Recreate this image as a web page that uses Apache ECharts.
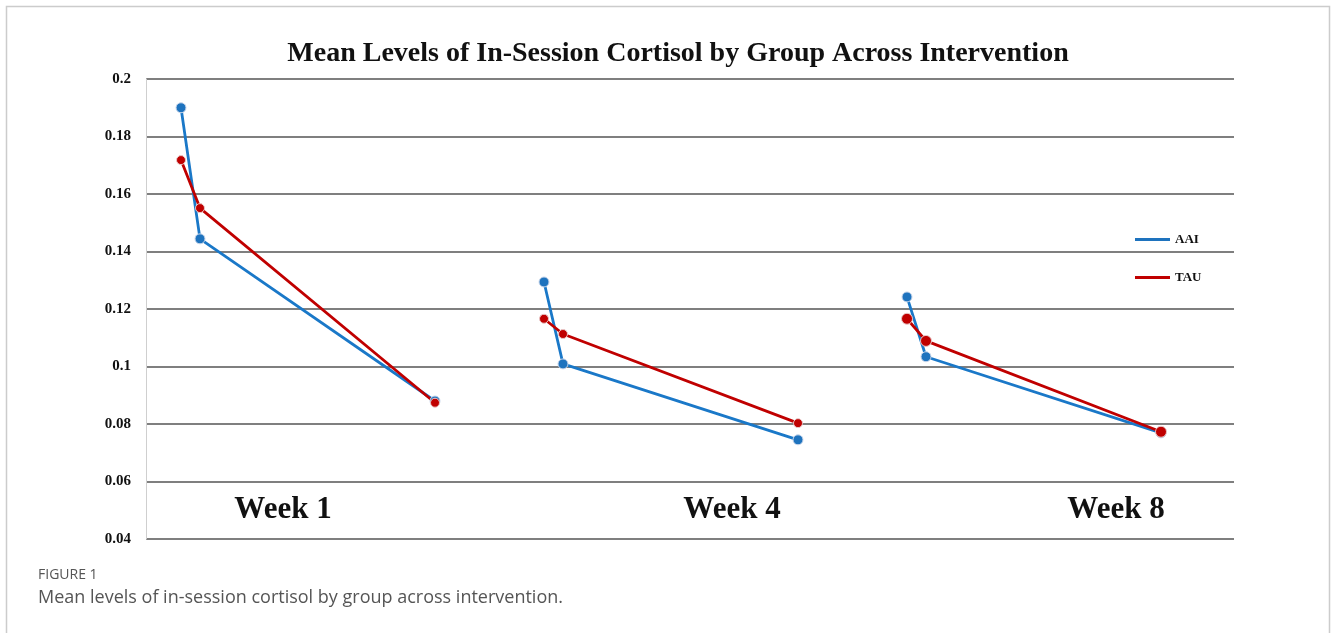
<!DOCTYPE html>
<html>
<head>
<meta charset="utf-8">
<script src="https://cdn.jsdelivr.net/npm/echarts@6/dist/echarts.min.js"></script>
<style>
html,body{margin:0;padding:0;background:#fff;}
#main{width:1333px;height:633px;}
</style>
</head>
<body>
<div id="main"></div>
<script>
// ---- data ----
const weeks = ['Week 1', 'Week 4', 'Week 8'];
// horizontal position of each in-session sample (axis units), per week
const samplePos = [[35, 54, 289], [398, 417, 652], [761, 780, 1015]];
const aaiValues = [[0.190, 0.1444, 0.088], [0.1294, 0.1009, 0.0745], [0.1242, 0.1034, 0.0769]];
const tauValues = [[0.1718, 0.1551, 0.0874], [0.1166, 0.1113, 0.0803], [0.1166, 0.1089, 0.0773]];
const weekLabelPos = [137, 586, 970];
const yTicks = { min: 0.04, max: 0.2, interval: 0.02 };

function buildSeries(vals, bigLast) {
  const out = [];
  vals.forEach((w, i) => {
    w.forEach((v, j) => {
      const pt = { value: [samplePos[i][j], v] };
      if (bigLast && i === 2) pt.symbolSize = 11;
      out.push(pt);
    });
    if (i < vals.length - 1) out.push({ value: [samplePos[i][2] + 1, '-'] });
  });
  return out;
}

const chart = echarts.init(document.getElementById('main'));
const serif = 'Liberation Serif';
const option = {
  animation: false,
  title: {
    text: 'Mean Levels of In-Session Cortisol by Group Across Intervention',
    left: 673, textAlign: 'center', top: 35,
    textStyle: { fontFamily: serif, fontWeight: 'bold', fontSize: 28, color: '#111' }
  },
  legend: {
    orient: 'vertical', left: 1130, top: 228, itemGap: 25,
    itemWidth: 35, itemHeight: 3, icon: 'rect',
    itemStyle: { borderWidth: 0 },
    textStyle: { fontFamily: serif, fontWeight: 'bold', fontSize: 13, color: '#111', padding: [0, 0, 6, 0] },
    data: ['AAI', 'TAU']
  },
  grid: { left: 146, right: 99, top: 79, bottom: 94 },
  xAxis: {
    type: 'value', min: 0, max: 1088,
    axisLine: { show: false }, axisTick: { show: false }, axisLabel: { show: false }, splitLine: { show: false }
  },
  yAxis: {
    type: 'value', min: yTicks.min, max: yTicks.max, interval: yTicks.interval,
    axisLine: { show: true, lineStyle: { color: '#cfcfcf', width: 1 } },
    axisTick: { show: false },
    axisLabel: {
      margin: 15, fontFamily: serif, fontWeight: 'bold', fontSize: 15, color: '#111',
      formatter: v => String(Math.round(v * 100) / 100)
    },
    splitLine: { show: true, lineStyle: { color: '#555', width: 1.5 } }
  },
  series: [
    {
      name: 'AAI', type: 'line', data: buildSeries(aaiValues, false), connectNulls: false,
      color: '#1a78c8',
      lineStyle: { width: 2.8, color: '#1a78c8' },
      symbol: 'circle', symbolSize: 10,
      itemStyle: { color: '#1e73be', borderColor: '#c9d6ea', borderWidth: 1 }
    },
    {
      name: 'TAU', type: 'line', data: buildSeries(tauValues, true), connectNulls: false,
      color: '#c00000',
      lineStyle: { width: 2.8, color: '#c00000' },
      symbol: 'circle', symbolSize: 9,
      itemStyle: { color: '#c00000', borderColor: '#e8c8c8', borderWidth: 1 }
    }
  ]
};
chart.setOption(option);

const weekGraphics = weeks.map((w, i) => {
  const p = chart.convertToPixel({ gridIndex: 0 }, [weekLabelPos[i], 0.05]);
  return {
    type: 'text', x: p[0], y: 510,
    style: { text: w, fontFamily: serif, fontWeight: 'bold', fontSize: 31, fill: '#111', align: 'center', verticalAlign: 'middle' }
  };
});

chart.setOption({
  graphic: [
    { type: 'rect', shape: { x: 6.5, y: 6.5, width: 1323, height: 700 }, style: { fill: 'none', stroke: '#cccccc', lineWidth: 1.5 }, silent: true },
    ...weekGraphics,
    { type: 'text', x: 38, y: 575, style: { text: 'FIGURE 1', fontFamily: 'Open Sans', fontSize: 14, fill: '#555', verticalAlign: 'middle' } },
    { type: 'text', x: 38, y: 598, style: { text: 'Mean levels of in-session cortisol by group across intervention.', fontFamily: 'Open Sans', fontSize: 18, fill: '#555', verticalAlign: 'middle' } }
  ]
});
</script>
</body>
</html>
